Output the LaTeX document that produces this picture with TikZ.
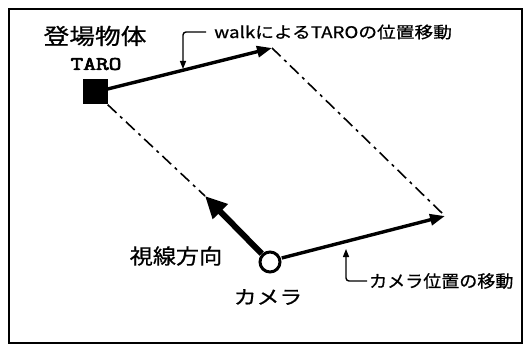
\documentclass[tikz,border=0pt]{standalone}
\usepackage{fontspec}
\usepackage{graphicx}
\setmainfont{Noto Sans CJK JP}[FakeBold=0.6]
\newfontfamily\monob{Latin Modern Mono}[FakeBold=3]
\usetikzlibrary{arrows.meta}
\tikzset{
  mainarrow/.style={line width=3.4pt,-{Triangle[length=15pt,width=11pt]}},
  dashdot/.style={line width=1.6pt,dash pattern=on 12pt off 5pt on 3pt off 5pt},
  pointer/.style={line width=1.4pt,rounded corners=3pt,-{Triangle[length=8pt,width=6pt]}},
  lbl/.style={inner sep=0pt,anchor=center},
}
\begin{document}
\begin{tikzpicture}[x=1pt,y=-1pt]
\useasboundingbox (0,0) rectangle (526,347);
\fill[white] (0,0) rectangle (526,347);
\draw[line width=2pt] (9,9) rectangle (522,343);
% points
\node[fill=black,minimum size=25pt,inner sep=0pt] (taro) at (95,92) {};
\node[circle,minimum size=23pt,inner sep=0pt] (cam) at (270,262) {};
\coordinate (tnew) at (272,48);
\coordinate (cnew) at (445,216);
\coordinate (vtip) at (205,196);
% lines
\draw[dashdot] (taro.south east) -- (vtip);
\draw[dashdot] (tnew) -- (cnew);
\draw[mainarrow] (taro.east) ++(0,-3) -- (tnew);
\draw[mainarrow] (cam.east) ++(0,-4) -- (cnew);
\draw[line width=6pt,-{Triangle[length=22pt,width=20pt]}] (cam.north west) -- (vtip);
\draw[line width=3pt,fill=white] (cam) circle (10pt);
% labels
\node[lbl,font=\fontsize{22}{22}\selectfont] (l1) at (95,36) {\scalebox{1.17}[1]{登場物体}};
\node[lbl,font=\monob\fontsize{19}{19}\selectfont] (l2) at (96,64) {\scalebox{1.3}[1]{TARO}};
\node[lbl,font=\fontsize{21}{21}\selectfont] (l3) at (176,256) {\scalebox{1.1}[1]{視線方向}};
\node[lbl,font=\fontsize{19}{19}\selectfont] (l4) at (268,297) {\scalebox{1.2}[1]{カメラ}};
\node[lbl,anchor=west,font=\fontsize{16}{16}\selectfont] (l5) at (214,32) {\scalebox{1.17}[1]{walkによるTAROの位置移動}};
\node[lbl,anchor=west,font=\fontsize{17}{17}\selectfont] (l6) at (369,281) {\scalebox{1.06}[1]{カメラ位置の移動}};
% pointers
\coordinate (p1a) at (206,32);
\coordinate (p1b) at (183,69);
\draw[pointer] (p1a) -- (p1a -| p1b) -- (p1b);
\coordinate (p2a) at (367,281);
\coordinate (p2b) at (346,249);
\draw[pointer] (p2a) -- (p2a -| p2b) -- (p2b);
\end{tikzpicture}
\end{document}
